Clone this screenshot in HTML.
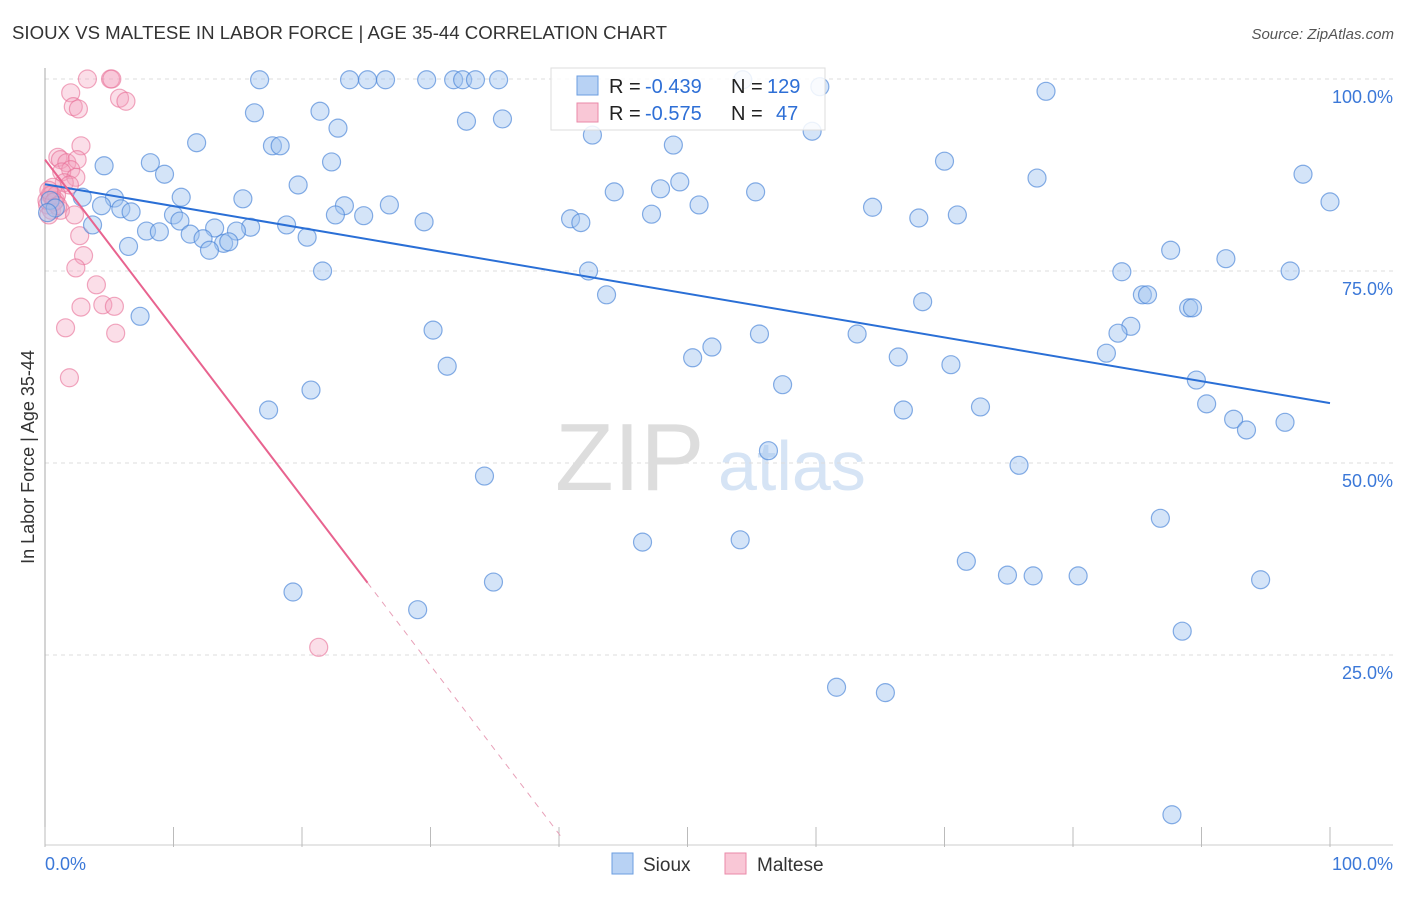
<!DOCTYPE html>
<html><head><meta charset="utf-8"><style>
body{margin:0;background:#fff;font-family:"Liberation Sans",sans-serif;}
svg text{font-family:"Liberation Sans",sans-serif;}
</style></head><body>
<svg id="chart" width="1406" height="892" xmlns="http://www.w3.org/2000/svg">
<text x="12" y="39" font-size="18" fill="#333" textLength="655" lengthAdjust="spacingAndGlyphs">SIOUX VS MALTESE IN LABOR FORCE | AGE 35-44 CORRELATION CHART</text>
<text x="1394" y="39" font-size="15" fill="#555" font-style="italic" text-anchor="end">Source: ZipAtlas.com</text>
<g><text x="555" y="490" font-size="96" fill="#ddd" font-family="Liberation Serif,serif">ZIP</text><text x="718" y="490" font-size="70" fill="#d6e4f5">atlas</text></g>
<g id="grid"></g>
<g id="axes"></g>
<g id="marks"></g>
<g>
<rect x="551" y="68" width="274" height="62" fill="#fff" fill-opacity="0.85" stroke="#ddd"/>
<rect x="577" y="76" width="21" height="19" fill="#b8d2f4" stroke="#6b9ee0"/>
<text x="609" y="93" font-size="20" fill="#222">R =</text>
<text x="645" y="93" font-size="20" fill="#2e6fd6">-0.439</text>
<text x="731" y="93" font-size="20" fill="#222">N =</text>
<text x="767" y="93" font-size="20" fill="#2e6fd6">129</text>
<rect x="577" y="103" width="21" height="19" fill="#f9c7d6" stroke="#ea8aa8"/>
<text x="609" y="120" font-size="20" fill="#222">R =</text>
<text x="645" y="120" font-size="20" fill="#2e6fd6">-0.575</text>
<text x="731" y="120" font-size="20" fill="#222">N =</text>
<text x="776" y="120" font-size="20" fill="#2e6fd6">47</text>
</g>
<g>
<rect x="612" y="853" width="21" height="21" fill="#b8d2f4" stroke="#6b9ee0"/>
<text x="643" y="871" font-size="19" fill="#333">Sioux</text>
<rect x="725" y="853" width="21" height="21" fill="#f9c7d6" stroke="#ea8aa8"/>
<text x="757" y="871" font-size="19" fill="#333">Maltese</text>
</g>
<text transform="translate(34,457) rotate(-90)" font-size="18" fill="#333" text-anchor="middle">In Labor Force | Age 35-44</text>
</svg>
<script>
const yTicks=[25,50,75,100];
const yTickLabels=["25.0%","50.0%","75.0%","100.0%"];
const xTicks=[0,10,20,30,40,50,60,70,80,90,100];
const siouxX=[16.7,23.7,25.1,26.5,29.7,31.8,32.5,33.5,35.3,54.3,60.3,77.9,21.4,16.3,32.8,35.6,22.8,42.6,59.7,11.8,17.7,18.3,48.9,4.6,8.2,22.3,70.0,9.3,97.9,77.2,19.7,49.4,47.9,44.3,55.3,10.6,15.4,100,2.9,5.4,4.4,23.3,26.8,50.9,64.4,5.9,6.7,10.0,10.5,24.8,22.6,40.9,41.7,47.2,68.0,71.0,29.5,18.8,3.7,7.9,8.9,13.2,16.0,11.3,14.9,12.3,13.9,14.3,20.4,12.8,6.5,87.6,91.9,21.6,42.3,83.8,96.9,43.7,85.4,85.8,68.3,89.0,89.3,7.4,30.2,84.5,83.5,55.6,63.2,51.9,50.4,66.4,82.6,31.3,70.5,57.4,20.7,89.6,90.4,17.4,66.8,72.8,92.5,93.5,96.5,56.3,75.8,34.2,86.8,46.5,54.1,71.7,74.9,76.9,80.4,34.9,94.6,19.3,29.0,88.5,61.6,65.4,87.7,0.4,0.8,0.2];
const siouxY=[99.9,99.9,99.9,99.9,99.9,99.9,99.9,99.9,99.9,99.9,99.0,98.4,95.8,95.6,94.5,94.8,93.6,92.7,93.2,91.7,91.3,91.3,91.4,88.7,89.1,89.2,89.3,87.6,87.6,87.1,86.2,86.6,85.7,85.3,85.3,84.6,84.4,84.0,84.6,84.5,83.5,83.5,83.6,83.6,83.3,83.1,82.7,82.3,81.5,82.2,82.3,81.8,81.3,82.4,81.9,82.3,81.4,81.0,81.0,80.2,80.1,80.6,80.7,79.8,80.2,79.2,78.6,78.8,79.4,77.7,78.2,77.7,76.6,75.0,75.0,74.9,75.0,71.9,71.9,71.9,71.0,70.2,70.2,69.1,67.3,67.8,66.9,66.8,66.8,65.1,63.7,63.8,64.3,62.6,62.8,60.2,59.5,60.8,57.7,56.9,56.9,57.3,55.7,54.3,55.3,51.6,49.7,48.3,42.8,39.7,40.0,37.2,35.4,35.3,35.3,34.5,34.8,33.2,30.9,28.1,20.8,20.1,4.2,84.2,83.2,82.6];
const malteseX=[3.3,5.1,5.2,2.0,5.8,6.3,2.2,2.6,2.8,1.0,1.2,1.7,2.5,2.0,1.3,2.4,1.5,1.9,0.6,0.4,0.8,0.2,0.5,1.2,0.3,2.3,2.7,3.0,2.4,4.0,2.8,4.5,5.4,1.6,5.5,1.9,21.3,0.15,0.5,0.9,0.3,0.7,1.0];
const malteseY=[100,100,100,98.2,97.5,97.1,96.4,96.1,91.3,89.8,89.5,89.1,89.5,88.2,87.9,87.2,86.5,86.2,85.9,84.9,84.2,83.6,82.9,82.9,82.3,82.3,79.6,77.0,75.4,73.2,70.3,70.6,70.4,67.6,66.9,61.1,26.0,84.2,84.9,84.9,85.5,84.0,83.5];
const siouxTrend=[86.3,57.8];
const malteseTrend=[89.5,-2.195];
const malteseSolidEnd=25.1, malteseDashEnd=40.1;

const X0=45,X1=1330,Y0=847,Y1=79;
const sx=v=>X0+(X1-X0)*v/100;
const sy=v=>Y0-(Y0-Y1)*v/100;
const NS="http://www.w3.org/2000/svg";
function mk(tag,attrs,parent){const e=document.createElementNS(NS,tag);for(const k in attrs)e.setAttribute(k,attrs[k]);parent.appendChild(e);return e;}
const grid=document.getElementById('grid'),axes=document.getElementById('axes'),marks=document.getElementById('marks');
yTicks.forEach((t,i)=>{
  const l=mk('line',{x1:X0,x2:1393,y1:sy(t),y2:sy(t),stroke:'#ddd','stroke-dasharray':'4,4'},grid);
  
  
  const tx=mk('text',{x:1393,y:sy(t)+24,'font-size':18,fill:'#3b78d8','text-anchor':'end'},grid);
  tx.textContent=yTickLabels[i];
  
  
});
mk('line',{x1:X0,x2:X0,y1:68,y2:Y0,stroke:'#aaa'},axes);
mk('line',{x1:X0,x2:1393,y1:845,y2:845,stroke:'#ccc'},axes);
xTicks.forEach(t=>{
  const l=mk('line',{x1:sx(t),x2:sx(t),y1:827,y2:Y0,stroke:'#bbb'},axes);
  
  
});
const xl0=mk('text',{x:45,y:870,'font-size':18,fill:'#3b78d8'},axes);xl0.textContent='0.0%';


const xl1=mk('text',{x:1393,y:870,'font-size':18,fill:'#3b78d8','text-anchor':'end'},axes);xl1.textContent='100.0%';



malteseX.forEach((x,i)=>{
  const c=mk('circle',{cx:sx(x),cy:sy(malteseY[i]),r:9,fill:'rgba(244,160,188,0.35)',stroke:'rgba(232,110,150,0.6)','stroke-width':1.2},marks);
  
  
});
siouxX.forEach((x,i)=>{
  const c=mk('circle',{cx:sx(x),cy:sy(siouxY[i]),r:9,fill:'rgba(160,196,240,0.45)',stroke:'rgba(70,130,215,0.65)','stroke-width':1.2},marks);
  
  
});
const bt=mk('line',{x1:sx(0),y1:sy(siouxTrend[0]),x2:sx(100),y2:sy(siouxTrend[1]),stroke:'#2a6fd6','stroke-width':2},marks);


const mf=x=>malteseTrend[0]+malteseTrend[1]*x;
const pt=mk('line',{x1:sx(0),y1:sy(mf(0)),x2:sx(malteseSolidEnd),y2:sy(mf(malteseSolidEnd)),stroke:'#e8638f','stroke-width':2},marks);


const pd=mk('line',{x1:sx(malteseSolidEnd),y1:sy(mf(malteseSolidEnd)),x2:sx(malteseDashEnd),y2:sy(mf(malteseDashEnd)),stroke:'#e8a0b8','stroke-width':1,'stroke-dasharray':'6,6'},marks);


</script>
</body></html>
